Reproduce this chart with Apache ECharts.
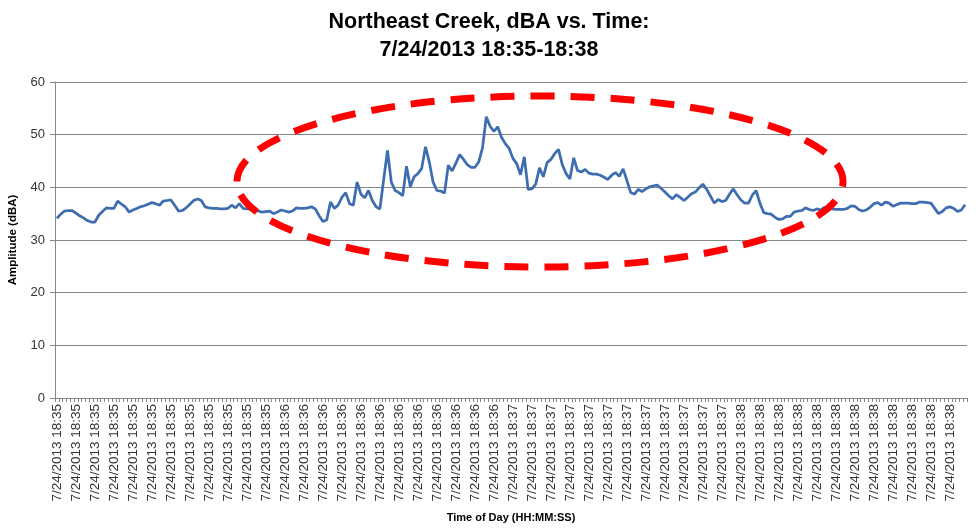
<!DOCTYPE html>
<html>
<head>
<meta charset="utf-8">
<script src="https://cdn.jsdelivr.net/npm/echarts@6/dist/echarts.min.js"></script>
<style>html,body{margin:0;padding:0;background:#fff}#c{width:978px;height:528px}</style>
</head>
<body>
<div id="c"></div>
<script>
// dBA readings, one per second, grouped by minute
const min35 = [34.1,34.9,35.5,35.6,35.6,35.1,34.6,34.2,33.7,33.4,33.4,34.7,35.4,36.1,36.0,36.0,37.4,36.8,36.3,35.3,
  35.7,36.0,36.3,36.5,36.8,37.1,36.9,36.6,37.4,37.5,37.6,36.6,35.5,35.6,36.1,36.8,37.5,37.8,37.5,36.3,
  36.1,36.0,36.0,35.9,35.9,36.0,36.6,36.1,36.9,36.0,35.9,35.9,35.6,35.5,35.3,35.4,35.5,35.0,35.3,35.7];
const min36 = [35.5,35.3,35.5,36.1,36.0,36.0,36.1,36.3,35.9,34.6,33.5,33.8,37.2,36.0,36.6,38.1,39.0,36.9,36.6,41.0,
  38.7,38.0,39.4,37.5,36.3,35.9,41.5,47.0,41.0,39.4,39.0,38.4,44.0,40.1,42.0,42.6,43.6,47.7,44.8,41.0,
  39.4,39.3,38.9,44.2,43.1,44.6,46.2,45.3,44.3,43.8,43.8,44.8,47.5,53.4,51.6,50.6,51.5,49.5,48.3,47.4];
const min37 = [45.5,44.5,42.4,45.8,39.6,39.7,40.6,43.7,42.0,44.7,45.3,46.4,47.2,44.3,42.6,41.6,45.6,43.2,42.9,43.4,
  42.7,42.5,42.5,42.3,41.9,41.5,42.3,42.8,42.1,43.5,41.3,39.0,38.7,39.6,39.2,39.7,40.1,40.3,40.4,39.8,
  39.1,38.4,37.8,38.6,38.1,37.5,38.1,38.8,39.1,39.9,40.6,39.6,38.3,37.0,37.7,37.3,37.5,38.7,39.7,38.6];
const min38 = [37.6,37.0,37.0,38.5,39.4,37.0,35.2,35.0,34.9,34.3,33.9,34.0,34.5,34.5,35.3,35.5,35.6,36.1,35.8,35.6,
  35.9,35.7,36.2,36.0,35.9,35.8,35.8,35.8,36.0,36.5,36.4,35.8,35.5,35.7,36.2,36.9,37.1,36.6,37.2,37.0,
  36.4,36.7,37.0,37.0,37.0,36.9,36.9,37.2,37.2,37.1,37.0,36.0,35.0,35.4,36.1,36.3,36.0,35.4,35.7,36.7];
const minutes = ['18:35','18:36','18:37','18:38'];
const datePrefix = '7/24/2013';
const yTicks = [0,10,20,30,40,50,60];

const values = [].concat(min35, min36, min37, min38);
const categories = [];
minutes.forEach(function(m){ for (let s = 0; s < 60; s++) categories.push(m + ':' + (s < 10 ? '0' : '') + s); });

const FONT = '"Liberation Sans", Arial, sans-serif';
const chart = echarts.init(document.getElementById('c'), null, {renderer: 'canvas'});
chart.setOption({
  animation: false,
  backgroundColor: '#ffffff',
  title: {
    text: 'Northeast Creek, dBA vs. Time:\n7/24/2013 18:35-18:38',
    left: 'center', top: 8, padding: 0,
    textStyle: {fontFamily: FONT, fontWeight: 'bold', fontSize: 21.5, lineHeight: 28, color: '#000'}
  },
  grid: {left: 55, right: 11, top: 82, bottom: 130, containLabel: false, outerBoundsMode: 'none'},
  xAxis: {
    type: 'category', data: categories, boundaryGap: true,
    name: 'Time of Day (HH:MM:SS)', nameLocation: 'middle', nameGap: 114,
    nameTextStyle: {fontFamily: FONT, fontWeight: 'bold', fontSize: 11, color: '#000'},
    axisLine: {lineStyle: {color: '#868686', width: 1}},
    axisTick: {show: true, interval: 0, length: 4, lineStyle: {color: '#868686'}},
    axisLabel: {
      interval: 4, rotate: 90, margin: 6, fontFamily: FONT, fontSize: 13.5, color: '#333',
      formatter: function(v){ return datePrefix + ' ' + v.slice(0,5); }
    },
    splitLine: {show: false}
  },
  yAxis: {
    type: 'value', min: yTicks[0], max: yTicks[yTicks.length-1], interval: 10,
    name: 'Amplitude (dBA)', nameLocation: 'middle', nameGap: 36,
    nameTextStyle: {fontFamily: FONT, fontWeight: 'bold', fontSize: 11.5, color: '#000'},
    axisLine: {show: true, lineStyle: {color: '#868686', width: 1}},
    axisTick: {show: true, length: 5, lineStyle: {color: '#868686'}},
    axisLabel: {margin: 10, fontFamily: FONT, fontSize: 13, color: '#333'},
    splitLine: {show: true, lineStyle: {color: '#868686', width: 1}}
  },
  series: [{
    type: 'line', data: values, showSymbol: false, symbol: 'none',
    lineStyle: {color: '#3E6DB0', width: 2.75}, z: 2
  }],
  graphic: [{
    type: 'ellipse', z: 100, silent: true,
    shape: {cx: 540, cy: 181.5, rx: 303, ry: 85.5},
    style: {fill: null, stroke: '#FF0000', lineWidth: 7, lineDash: [24, 16]}
  }]
});
</script>
</body>
</html>
